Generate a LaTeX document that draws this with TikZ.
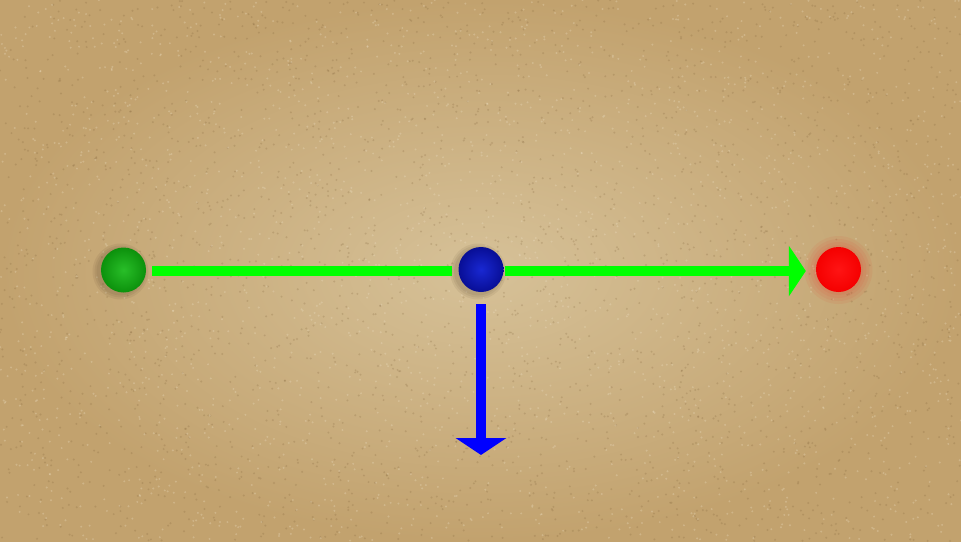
\documentclass[tikz,border=0pt]{standalone}
\usetikzlibrary{arrows.meta}
\definecolor{sandin}{RGB}{214,193,152}
\definecolor{sandout}{RGB}{194,162,110}
\definecolor{speckdark}{RGB}{125,95,55}
\definecolor{specklight}{RGB}{238,225,198}
\definecolor{arrgreen}{RGB}{0,255,0}
\definecolor{arrblue}{RGB}{0,0,255}
\definecolor{gin}{RGB}{40,190,40}
\definecolor{gout}{RGB}{12,145,12}
\definecolor{bin}{RGB}{25,40,210}
\definecolor{bout}{RGB}{8,14,150}
\definecolor{rin}{RGB}{255,20,20}
\definecolor{rout}{RGB}{245,0,0}
\tikzset{
  ballnode/.style={circle, minimum size=45pt, inner sep=0pt, shade},
  greenarrow/.style={draw=arrgreen, line width=10pt, line cap=butt},
  bluearrow/.style={draw=arrblue, line width=10pt, line cap=butt},
  bigtip/.style={-{Triangle[width=50pt,length=17pt]}}
}
\begin{document}
\begin{tikzpicture}[x=1pt,y=-1pt]
\useasboundingbox (0,0) rectangle (961,541);
% background
\shade[inner color=sandin, outer color=sandout] (0,0) rectangle (961,541);
\pgfmathsetseed{7}
\foreach \i in {1,...,2600} {
  \fill[speckdark, opacity=0.22] (rnd*961, rnd*541) circle (1.1pt);
}
\foreach \i in {1,...,2200} {
  \fill[specklight, opacity=0.3] (rnd*961, rnd*541) circle (1.1pt);
}
% shadows
\foreach \r in {24,26,28} {
  \fill[black!70!brown, opacity=0.07] (120.5,271.5) circle (\r pt);
  \fill[black!70!brown, opacity=0.07] (478,271.5) circle (\r pt);
}
% red glow
\foreach \r in {25,28,31,34} {
  \fill[red, opacity=0.05] (838.5,270) circle (\r pt);
}
% balls
\node[ballnode, inner color=gin, outer color=gout] (g) at (123.5,270) {};
\node[ballnode, inner color=bin, outer color=bout] (b) at (481,269.5) {};
\node[ballnode, inner color=rin, outer color=rout] (r) at (838.5,269.5) {};
\coordinate (bdown) at (481,455);
% connectors
\draw[greenarrow, shorten <=6pt, shorten >=6pt] ([yshift=-1pt]g.east) -- ([yshift=-1.5pt]b.west);
\draw[greenarrow, bigtip, shorten <=1pt, shorten >=10pt] ([yshift=-1.5pt]b.east) -- ([yshift=-1.5pt]r.west);
\draw[bluearrow, bigtip, shorten <=12pt] (b.south) -- (bdown);
\end{tikzpicture}
\end{document}
